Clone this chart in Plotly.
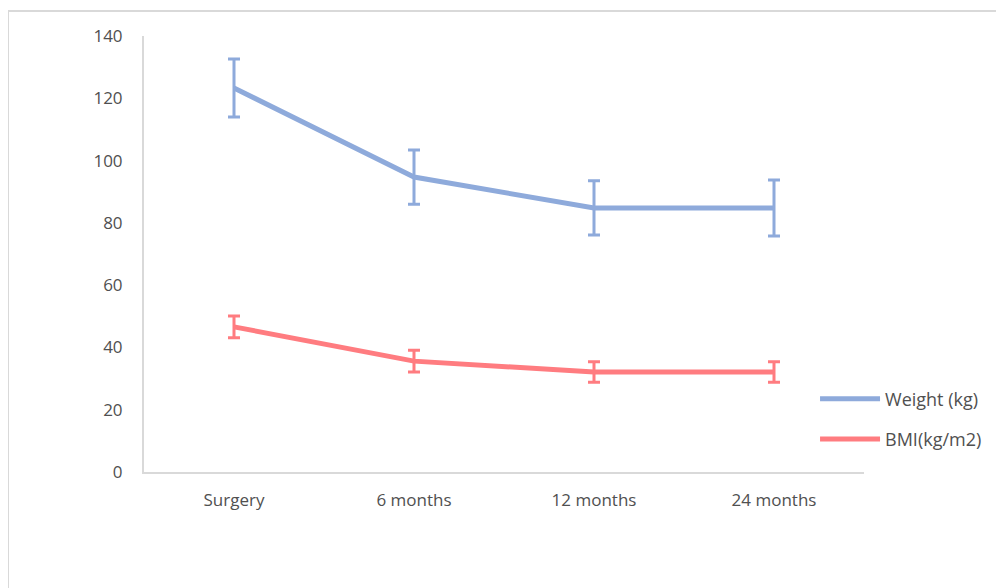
import plotly.graph_objects as go

categories = ["Surgery", "6 months", "12 months", "24 months"]
weight = [123.3, 94.7, 84.8, 84.8]
weight_err = [9.3, 8.7, 8.7, 9.0]
bmi = [46.6, 35.6, 32.1, 32.1]
bmi_err = [3.5, 3.5, 3.3, 3.3]
y_ticks = [0, 20, 40, 60, 80, 100, 120, 140]

blue = "#8eaadb"
red = "#ff7c80"
xpos = list(range(len(categories)))

fig = go.Figure()
fig.add_trace(go.Scatter(
    x=xpos, y=weight, mode="lines", name="Weight (kg)", legendgroup="w",
    line=dict(color=blue, width=5),
    error_y=dict(type="data", array=weight_err, visible=True, color=blue, thickness=3, width=6),
))
fig.add_trace(go.Scatter(
    x=xpos, y=bmi, mode="lines", name="BMI(kg/m2)", legendgroup="b",
    line=dict(color=red, width=5),
    error_y=dict(type="data", array=bmi_err, visible=True, color=red, thickness=3, width=6),
))

fig.update_layout(
    width=1004, height=588,
    margin=dict(l=136, r=148, t=28, b=124),
    paper_bgcolor="white", plot_bgcolor="white",
    font=dict(family="Open Sans, DejaVu Sans, sans-serif", size=17, color="#505050"),
    showlegend=True,
    legend=dict(x=0.932, y=0.21, xanchor="left", yanchor="top",
                font=dict(size=18, color="#505050"), tracegroupgap=14,
                itemwidth=60, bgcolor="rgba(0,0,0,0)"),
    xaxis=dict(range=[-0.5, len(categories) - 0.5], tickvals=xpos, ticktext=categories,
               showgrid=False, showline=True, linecolor="#d9d9d9", zeroline=False,
               linewidth=2, ticks="", tickfont=dict(size=17), ticklabelstandoff=12),
    yaxis=dict(range=[0, 140], tickvals=y_ticks, showgrid=False, showline=True,
               linecolor="#d9d9d9", linewidth=2, ticks="", zeroline=False,
               tickfont=dict(size=17), ticklabelstandoff=16),
    shapes=[dict(type="rect", xref="paper", yref="paper",
                 x0=-0.1889, x1=1.3, y0=-0.5, y1=1.0573,
                 line=dict(color="#d9d9d9", width=2), fillcolor="rgba(0,0,0,0)",
                 layer="below")],
)

fig.write_html("out.html")
